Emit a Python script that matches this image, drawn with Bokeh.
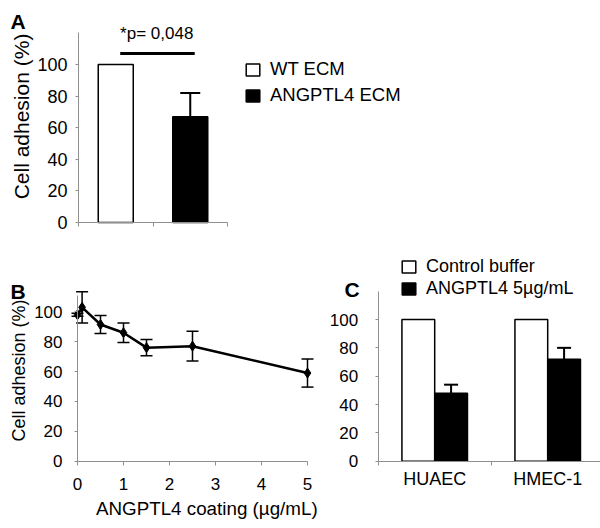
import numpy as np
from bokeh.plotting import figure
from bokeh.models import (Range1d, FixedTicker, Whisker, TeeHead, ColumnDataSource,
                          Legend, LegendItem, Label, LinearAxis)
from bokeh.embed import file_html
from bokeh.resources import INLINE

FONT = "Liberation Sans"
AXIS_COLOR = "#909090"

# ---------------- data ----------------
# Panel A
a_groups = ["WT ECM", "ANGPTL4 ECM"]
a_values = [100, 67]
a_errors = [0, 15]
a_colors = ["white", "black"]
a_pvalue_text = "*p= 0,048"
a_sig_x = [0.56, 1.56]
a_sig_y = 107
a_pvalue_y = 115.8
a_yticks = [0, 20, 40, 60, 80, 100]
a_ymax = 120

# Panel B
b_dose = [0, 0.1, 0.5, 1, 1.5, 2.5, 5]
b_adhesion = [98, 103, 91.5, 86, 76, 77, 59]
b_errors = [1, 10.5, 6, 6.5, 5.5, 10, 9.4]
b_xticks = [0, 1, 2, 3, 4, 5]
b_yticks = [0, 20, 40, 60, 80, 100]
b_ymax = 111

# Panel C
c_cells = ["HUAEC", "HMEC-1"]
c_series = ["Control buffer", "ANGPTL4 5µg/mL"]
c_control = [100, 100]
c_angptl4 = [48, 72]
c_angptl4_err = [6, 8]
c_colors = ["white", "black"]
c_yticks = [0, 20, 40, 60, 80, 100]
c_ymax = 120

# ---------------- canvas / layout helpers ----------------
W, H = 600, 528


def xr(v0, px, s):
    """x range so that value v0 lands at page pixel px, s pixels per unit"""
    start = v0 - px / s
    return Range1d(start, start + W / s)


def yr(v0, py, s):
    start = v0 - (H - py) / s
    return Range1d(start, start + H / s)


def cy(py):
    return H - py


p = figure(width=W, height=H, x_range=Range1d(0, W), y_range=Range1d(0, H),
           x_axis_type=None, y_axis_type=None, title=None,
           output_backend="svg", toolbar_location=None, min_border=0)
p.outline_line_color = None
p.background_fill_color = "white"
p.border_fill_color = "white"

p.extra_x_ranges = {"aX": xr(0, 78, 74.5), "bX": xr(0, 77, 46.0), "cX": xr(0, 377.7, 113.0)}
p.extra_y_ranges = {"aY": yr(0, 222, 1.58), "bY": yr(0, 460.7, 1.494), "cY": yr(0, 460.7, 1.417)}


def make_axis(side, xname, yname, loc, bounds, ticker, font_size, standoff, tick_out=3):
    ax = LinearAxis(x_range_name=xname, y_range_name=yname, fixed_location=loc,
                    bounds=bounds, ticker=ticker)
    ax.axis_line_color = AXIS_COLOR
    ax.axis_line_width = 1
    ax.major_tick_line_color = AXIS_COLOR
    ax.minor_tick_line_color = AXIS_COLOR
    ax.major_tick_in = 0
    ax.major_tick_out = tick_out
    ax.minor_tick_in = 0
    ax.minor_tick_out = 0
    ax.major_label_text_font = FONT
    ax.major_label_text_font_size = font_size
    ax.major_label_text_color = "black"
    ax.major_label_standoff = standoff
    p.add_layout(ax, side)
    return ax


def text(x, y, t, fs, angle=0.0, align="center", bold=False, **kw):
    # (x, y) is the text's baseline anchor; compensate the renderer's anchoring
    lift = 0.35 * fs
    xo, yo = (-lift, 0.0) if angle else (0.0, lift)
    p.add_layout(Label(x=x, y=y, x_offset=xo, y_offset=yo, text=t, angle=angle,
                       text_font=FONT, text_font_size=f"{fs}px", text_align=align,
                       text_baseline="alphabetic", text_color="black",
                       text_font_style="bold" if bold else "normal", **kw))


def legend(items, left, top, size, spacing):
    return Legend(items=items, location=(left, cy(top) - (2 * 21 + spacing)),
                  orientation="vertical",
                  label_text_font=FONT, label_text_font_size=size,
                  label_text_color="black",
                  glyph_width=17, glyph_height=15, label_height=15, label_standoff=9,
                  spacing=spacing, padding=0, margin=0, border_line_color=None,
                  background_fill_alpha=0)


# ---------------- Panel A ----------------
a_x = np.arange(len(a_groups)) + 0.5
src_a = ColumnDataSource(dict(x=a_x, top=a_values, color=a_colors))
ra = p.vbar(x="x", top="top", width=0.47, bottom=0, fill_color="color",
            line_color="black", line_width=1.5, source=src_a,
            x_range_name="aX", y_range_name="aY")
err_idx = [i for i, e in enumerate(a_errors) if e > 0]
src_ae = ColumnDataSource(dict(
    x=[a_x[i] for i in err_idx],
    lower=[a_values[i] for i in err_idx],
    upper=[a_values[i] + a_errors[i] for i in err_idx]))
p.add_layout(Whisker(source=src_ae, base="x", lower="lower", upper="upper",
                     lower_head=None,
                     upper_head=TeeHead(size=20, line_width=2, line_color="black"),
                     line_width=2, line_color="black",
                     x_range_name="aX", y_range_name="aY"))
p.segment(x0=[a_sig_x[0]], x1=[a_sig_x[1]], y0=[a_sig_y], y1=[a_sig_y],
          line_color="black", line_width=3, x_range_name="aX", y_range_name="aY")
text(float(np.mean(a_sig_x)) - 0.01, a_pvalue_y, a_pvalue_text, 17,
     x_range_name="aX", y_range_name="aY")
make_axis("left", "aX", "aY", 0, (0, a_ymax), FixedTicker(ticks=a_yticks), "18px", 8)
ax_a = make_axis("below", "aX", "aY", 0, (0, len(a_groups)),
                 FixedTicker(ticks=[], minor_ticks=list(range(len(a_groups) + 1))),
                 "18px", 8, tick_out=0)
ax_a.minor_tick_out = 4
text(28.3, cy(116), "Cell adhesion (%)", 21, angle=np.pi / 2)
text(10, cy(28.3), "A", 21, align="left", bold=True)

p.add_layout(legend([LegendItem(label=a_groups[i], renderers=[ra], index=i)
                     for i in range(len(a_groups))], 244, 60, "18.5px", 4))

# ---------------- Panel B ----------------
src_b = ColumnDataSource(dict(
    x=b_dose, y=b_adhesion,
    lower=[v - e for v, e in zip(b_adhesion, b_errors)],
    upper=[v + e for v, e in zip(b_adhesion, b_errors)]))
p.add_layout(Whisker(source=src_b, base="x", lower="lower", upper="upper",
                     lower_head=TeeHead(size=12, line_width=1.5, line_color="black"),
                     upper_head=TeeHead(size=12, line_width=1.5, line_color="black"),
                     line_width=1.5, line_color="black",
                     x_range_name="bX", y_range_name="bY"))
p.line(x="x", y="y", source=src_b, line_color="black", line_width=2.5,
       x_range_name="bX", y_range_name="bY")
p.scatter(x="x", y="y", source=src_b, marker="diamond", size=10, color="black",
          x_range_name="bX", y_range_name="bY")
make_axis("left", "bX", "bY", 0, (0, b_ymax), FixedTicker(ticks=b_yticks), "17px", 12)
make_axis("below", "bX", "bY", 0, (0, max(b_xticks)), FixedTicker(ticks=b_xticks),
          "17px", 13, tick_out=4)
text(24.8, cy(370), "Cell adhesion (%)", 18, angle=np.pi / 2)
text(206.3, cy(515), "ANGPTL4 coating (µg/mL)", 18.8)
text(10, cy(298), "B", 21, align="left", bold=True)

# ---------------- Panel C ----------------
c_x = np.arange(len(c_cells)) + 0.5
bar_w = 0.29
src_c = ColumnDataSource(dict(x_ctrl=c_x - bar_w / 2, x_ang=c_x + bar_w / 2,
                              ctrl=c_control, ang=c_angptl4,
                              ang_up=[v + e for v, e in zip(c_angptl4, c_angptl4_err)]))
rc1 = p.vbar(x="x_ctrl", top="ctrl", width=bar_w, bottom=0, fill_color=c_colors[0],
             line_color="black", line_width=1.5, source=src_c,
             x_range_name="cX", y_range_name="cY")
rc2 = p.vbar(x="x_ang", top="ang", width=bar_w, bottom=0, fill_color=c_colors[1],
             line_color="black", line_width=1.5, source=src_c,
             x_range_name="cX", y_range_name="cY")
p.add_layout(Whisker(source=src_c, base="x_ang", lower="ang", upper="ang_up",
                     lower_head=None,
                     upper_head=TeeHead(size=14, line_width=2, line_color="black"),
                     line_width=2, line_color="black",
                     x_range_name="cX", y_range_name="cY"))
make_axis("left", "cX", "cY", 0, (0, c_ymax), FixedTicker(ticks=c_yticks), "17px", 17)
ax_c = make_axis("below", "cX", "cY", 0, (0, len(c_cells)),
                 FixedTicker(ticks=list(c_x), minor_ticks=list(range(len(c_cells) + 1))),
                 "18px", 4, tick_out=0)
ax_c.minor_tick_out = 4
ax_c.major_label_overrides = {float(x): name for x, name in zip(c_x, c_cells)}
text(344, cy(296), "C", 21, align="left", bold=True)

p.add_layout(legend([LegendItem(label=c_series[0], renderers=[rc1]),
                     LegendItem(label=c_series[1], renderers=[rc2])],
                    400, 256, "18px", 1))

open("out.html", "w").write(file_html(p, INLINE))
